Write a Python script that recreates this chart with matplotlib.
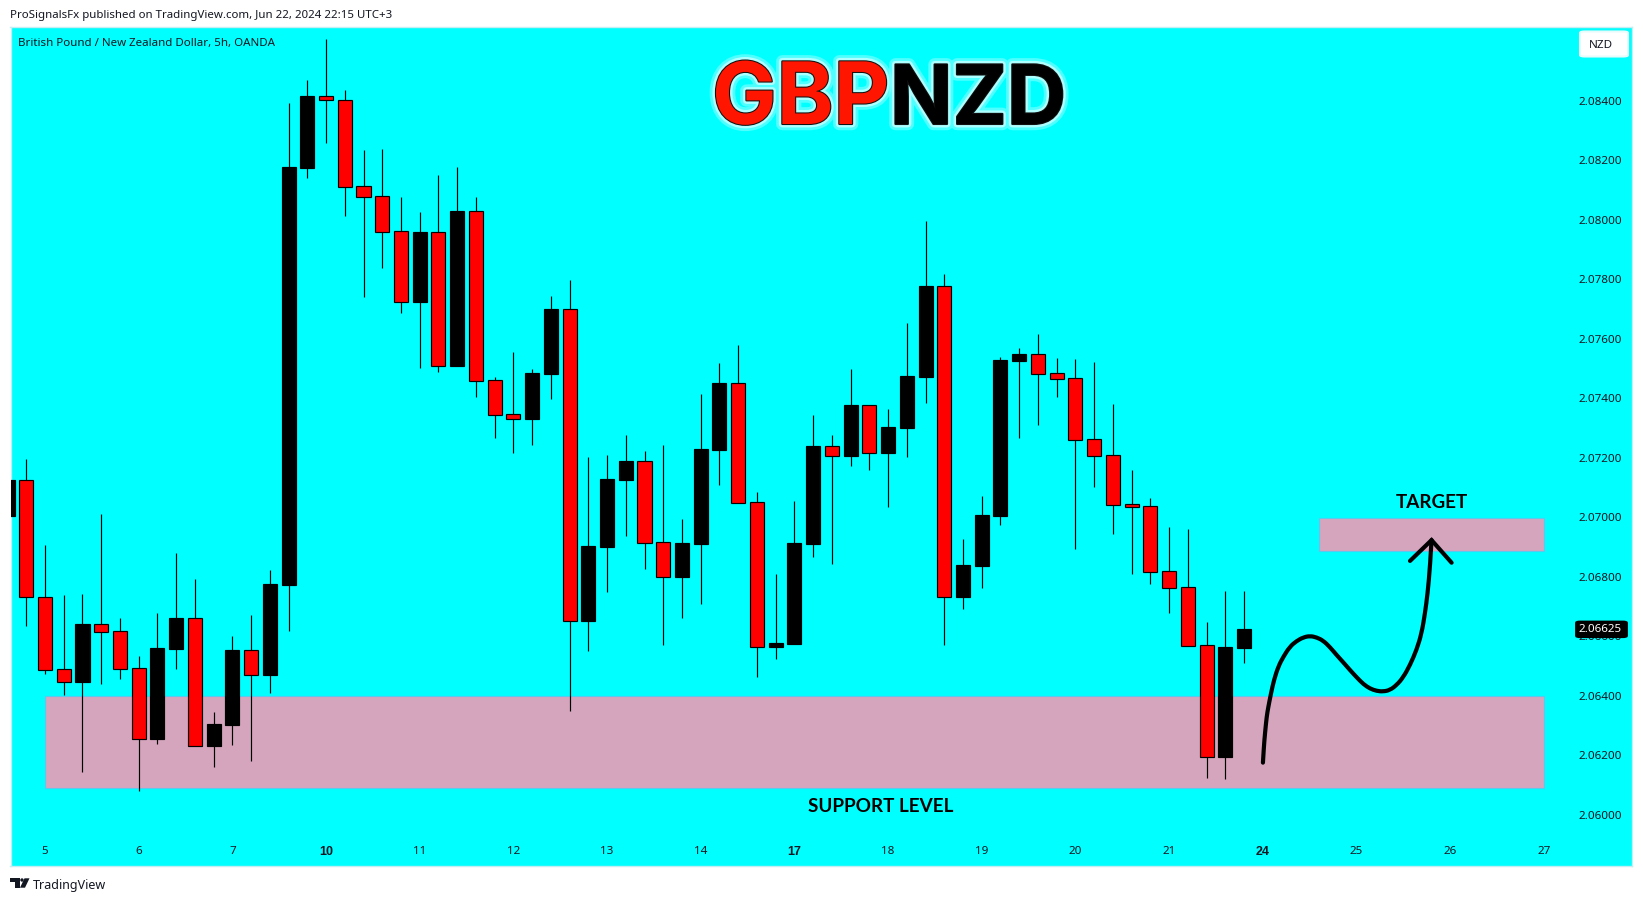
import matplotlib
matplotlib.use("Agg")
import matplotlib.pyplot as plt
import matplotlib.patheffects as pe
from matplotlib.patches import FancyBboxPatch, Polygon, Ellipse, Rectangle, PathPatch
from matplotlib.path import Path
from matplotlib.transforms import ScaledTranslation

W, H = 1643, 901
BG = "#00FFFF"
ZONE = "#D5A5BE"
ZONE_EDGE = "#5CC8EC"
FONT = "Noto Sans"
plt.rcParams["font.family"] = [FONT, "DejaVu Sans"]

# candle values, first bar is the one cut off by the left edge
bar_index = list(range(-1, 66))
opens = [2.07007, 2.07126, 2.06733, 2.06491, 2.06449, 2.06642, 2.06618, 2.06494, 2.06257, 2.06559,
         2.06662, 2.06234, 2.06304, 2.06555, 2.06472, 2.06775, 2.08177, 2.08417, 2.08403, 2.08114,
         2.08081, 2.07963, 2.07725, 2.07960, 2.07510, 2.08030, 2.07462, 2.07348, 2.07332, 2.07483,
         2.07701, 2.06653, 2.06902, 2.07127, 2.07190, 2.06918, 2.06801, 2.06912, 2.07228, 2.07452,
         2.07052, 2.06566, 2.06576, 2.06912, 2.07240, 2.07208, 2.07378, 2.07218, 2.07302, 2.07473,
         2.07778, 2.06734, 2.06838, 2.07006, 2.07527, 2.07550, 2.07486, 2.07469, 2.07264, 2.07210,
         2.07045, 2.07039, 2.06820, 2.06766, 2.06571, 2.06196, 2.06562]
closes = [2.07127, 2.06733, 2.06489, 2.06449, 2.06643, 2.06617, 2.06493, 2.06257, 2.06562, 2.06663,
          2.06234, 2.06307, 2.06556, 2.06473, 2.06777, 2.08179, 2.08418, 2.08403, 2.08113, 2.08079,
          2.07962, 2.07726, 2.07961, 2.07511, 2.08031, 2.07461, 2.07347, 2.07333, 2.07487, 2.07702,
          2.06654, 2.06905, 2.07130, 2.07191, 2.06916, 2.06802, 2.06915, 2.07231, 2.07453, 2.07051,
          2.06567, 2.06579, 2.06915, 2.07241, 2.07209, 2.07379, 2.07219, 2.07305, 2.07477, 2.07779,
          2.06735, 2.06841, 2.07009, 2.07530, 2.07551, 2.07484, 2.07468, 2.07262, 2.07209, 2.07044,
          2.07037, 2.06819, 2.06765, 2.06570, 2.06197, 2.06566, 2.06625]
highs = [2.07127, 2.07198, 2.06909, 2.06741, 2.06744, 2.07013, 2.06663, 2.06535, 2.06680, 2.06882,
         2.06794, 2.06347, 2.06603, 2.06673, 2.06825, 2.08394, 2.08472, 2.08609, 2.08438, 2.08236,
         2.08240, 2.08078, 2.08028, 2.08152, 2.08179, 2.08078, 2.07473, 2.07557, 2.07500, 2.07746,
         2.07799, 2.07204, 2.07211, 2.07278, 2.07225, 2.07245, 2.06996, 2.07416, 2.07520, 2.07581,
         2.07087, 2.06811, 2.07056, 2.07346, 2.07278, 2.07500, 2.07378, 2.07366, 2.07655, 2.07998,
         2.07819, 2.06929, 2.07073, 2.07540, 2.07571, 2.07618, 2.07537, 2.07534, 2.07524, 2.07382,
         2.07161, 2.07067, 2.06969, 2.06962, 2.06650, 2.06754, 2.06754]
lows = [2.07007, 2.06637, 2.06475, 2.06404, 2.06146, 2.06441, 2.06458, 2.06082, 2.06240, 2.06492,
        2.06234, 2.06162, 2.06236, 2.06183, 2.06411, 2.06619, 2.08142, 2.08260, 2.08014, 2.07742,
        2.07840, 2.07688, 2.07504, 2.07490, 2.07510, 2.07406, 2.07268, 2.07219, 2.07245, 2.07399,
        2.06352, 2.06552, 2.06751, 2.06939, 2.06828, 2.06572, 2.06663, 2.06710, 2.07110, 2.07051,
        2.06465, 2.06525, 2.06576, 2.06868, 2.06845, 2.07174, 2.07161, 2.07036, 2.07204, 2.07386,
        2.06572, 2.06693, 2.06764, 2.06976, 2.07268, 2.07312, 2.07406, 2.06895, 2.07104, 2.06946,
        2.06811, 2.06777, 2.06680, 2.06570, 2.06125, 2.06122, 2.06512]

# axes labels
price_ticks = [2.060, 2.062, 2.064, 2.066, 2.068, 2.070, 2.072, 2.074, 2.076, 2.078, 2.080, 2.082, 2.084]
date_ticks = [1, 6, 11, 16, 21, 26, 31, 36, 41, 46, 51, 56, 61, 66, 71, 76, 81]
date_labels = ["5", "6", "7", "10", "11", "12", "13", "14", "17", "18", "19", "20", "21", "24", "25", "26", "27"]
bold_dates = ["10", "17", "24"]
last_price = 2.06625

# drawn zones (bar index and price)
support_x = [1, 81]
support_y = [2.06091, 2.06400]
target_x = [69, 81]
target_y = [2.06887, 2.07000]

# hand-drawn arrow (bar index and price)
curve_x = [66.01, 66.06, 66.12, 66.21, 66.30, 66.44, 66.60, 66.83, 67.10, 67.45, 67.81, 68.16, 68.52, 68.88,
           69.23, 69.59, 69.94, 70.30, 70.66, 71.01, 71.37, 71.72, 72.08, 72.43, 72.79, 73.15, 73.50, 73.86,
           74.21, 74.48, 74.66, 74.80, 74.93, 75.01]
curve_y = [2.06177, 2.06231, 2.06275, 2.06332, 2.06365, 2.06410, 2.06455, 2.06500, 2.06533, 2.06567, 2.06586,
           2.06598, 2.06603, 2.06598, 2.06587, 2.06565, 2.06539, 2.06514, 2.06488, 2.06464, 2.06441, 2.06426,
           2.06418, 2.06416, 2.06421, 2.06438, 2.06464, 2.06505, 2.06556, 2.06612, 2.06679, 2.06746, 2.06836,
           2.06925]
head_x = [73.86, 75.01, 76.08]
head_y = [2.06855, 2.06925, 2.06849]


def fx(px):
    return px / W


def fy(py):
    return 1 - py / H


fig = plt.figure(figsize=(W / 100, H / 100), dpi=100, facecolor="white")
L, R, T, B = 10.5, 1632, 27, 866
ax = fig.add_axes([fx(L), fy(B), (R - L) / W, (B - T) / H], facecolor=BG)
ax.set_xlim(-0.843, 85.71)
ax.set_ylim(2.058296, 2.086497)
for s in ax.spines.values():
    s.set_color("#C4EEF2")
    s.set_linewidth(1)

# zones
ax.add_patch(Rectangle((support_x[0], support_y[0]), support_x[1] - support_x[0], support_y[1] - support_y[0],
                       facecolor=ZONE, edgecolor=ZONE_EDGE, linewidth=0.8, zorder=1))
ax.add_patch(Rectangle((target_x[0], target_y[0]), target_x[1] - target_x[0], target_y[1] - target_y[0],
                       facecolor=ZONE, edgecolor=ZONE_EDGE, linewidth=0.8, zorder=1))

# candles
colors = ["black" if c >= o else "#FF0000" for o, c in zip(opens, closes)]
ax.vlines(bar_index, lows, highs, color="black", linewidth=0.85, zorder=2)
ax.bar(bar_index, [abs(c - o) for o, c in zip(opens, closes)], bottom=[min(o, c) for o, c in zip(opens, closes)],
       width=0.75, color=colors, edgecolor="black", linewidth=0.85, zorder=3)

# arrow: the listed points steer a smooth curve
verts = [(curve_x[0], curve_y[0])]
codes = [Path.MOVETO]
for k in range(1, len(curve_x) - 1):
    verts.append((curve_x[k], curve_y[k]))
    codes.append(Path.CURVE3)
    if k < len(curve_x) - 2:
        verts.append(((curve_x[k] + curve_x[k + 1]) / 2, (curve_y[k] + curve_y[k + 1]) / 2))
    else:
        verts.append((curve_x[k + 1], curve_y[k + 1]))
    codes.append(Path.CURVE3)
ax.add_patch(PathPatch(Path(verts, codes), facecolor="none", edgecolor="black", linewidth=3.0,
                       capstyle="round", joinstyle="round", zorder=4))
ax.plot(head_x, head_y, color="black", linewidth=3.0, solid_capstyle="round", solid_joinstyle="miter", zorder=4)

# axes text
ax.yaxis.tick_right()
ax.set_yticks(price_ticks)
ax.set_yticklabels([f"{p:.5f}" for p in price_ticks], ha="right", va="center")
ax.tick_params(axis="y", length=0, pad=-7.2, labelsize=8.4, labelcolor="#131722", zorder=5)
ax.set_xticks(date_ticks)
ax.set_xticklabels(date_labels)
ax.tick_params(axis="x", length=0, pad=-14.5, labelsize=8.4, labelcolor="#131722")
for lab in ax.get_xticklabels():
    if lab.get_text() in bold_dates:
        lab.set_fontweight("bold")
        lab.set_family("Liberation Sans")
        lab.set_fontsize(9)
down_1px = ScaledTranslation(0, -1 / 100, fig.dpi_scale_trans)
for lab in ax.get_yticklabels():
    lab.set_transform(lab.get_transform() + down_1px)

# last price marker
ax.add_patch(FancyBboxPatch((fx(1576.5), fy(636.7)), 50 / W, 14.7 / H, boxstyle="round,pad=0.0,rounding_size=0.002",
                            transform=fig.transFigure, facecolor="black", edgecolor="black", linewidth=2,
                            mutation_aspect=H / W, clip_on=False, zorder=6))
fig.text(fx(1622), fy(630), f"{last_price:.5f}", color="white", fontsize=8.4, ha="right", va="center", zorder=7)

# zone labels
fig.text(fx(1431.7), fy(503), "TARGET", color="black", fontsize=13.6, fontweight="bold", family="Lato",
         ha="center", va="center")
fig.text(fx(881), fy(807), "SUPPORT LEVEL", color="black", fontsize=13.6, fontweight="bold", family="Lato",
         ha="center", va="center")

# big title
glow = [pe.withStroke(linewidth=9, foreground="#9FFFFF", alpha=0.5),
        pe.withStroke(linewidth=5, foreground="#D8FFFF", alpha=0.7),
        pe.withStroke(linewidth=1.5, foreground="#111111")]
fig.text(fx(712), fy(124), "GBP", color="#FF1500", fontsize=62, fontweight="bold", family="Inter",
         ha="left", va="baseline", path_effects=glow)
fig.text(fx(890), fy(124), "NZD", color="black", fontsize=59, fontweight="bold", family="Inter",
         ha="left", va="baseline", path_effects=glow)

# header / footer text
fig.text(fx(10), fy(15.7), "ProSignalsFx published on TradingView.com, Jun 22, 2024 22:15 UTC+3",
         color="#131722", fontsize=8.25, ha="left", va="center")
fig.text(fx(18.5), fy(43.5), "British Pound / New Zealand Dollar, 5h, OANDA", color="#131722", fontsize=8.3,
         ha="left", va="center")
fig.text(fx(33), fy(885.5), "TradingView", color="#131722", fontsize=9.0, ha="left", va="center")

# currency button
fig.add_artist(FancyBboxPatch((fx(1580), fy(56.5)), 48 / W, 25 / H, boxstyle="round,pad=0,rounding_size=0.003",
                              transform=fig.transFigure, facecolor="white", edgecolor="#E8FBFB", linewidth=1.5,
                              mutation_aspect=H / W))
fig.text(fx(1588.5), fy(45.3), "NZD", color="#131722", fontsize=8.4, ha="left", va="center")

# logo
fig.add_artist(Polygon([(fx(10), fy(878.3)), (fx(19.5), fy(878.3)), (fx(19.5), fy(887.7)), (fx(15), fy(887.7)),
                        (fx(15), fy(881.5)), (fx(10), fy(881.5))], closed=True, transform=fig.transFigure,
                       facecolor="#131722", edgecolor="none"))
fig.add_artist(Polygon([(fx(24.5), fy(878.3)), (fx(29.5), fy(878.3)), (fx(25), fy(887.7)), (fx(20), fy(887.7))],
                       closed=True, transform=fig.transFigure, facecolor="#131722", edgecolor="none"))
fig.add_artist(Ellipse((fx(22), fy(880)), 3.4 / W, 3.4 / H, transform=fig.transFigure, facecolor="#131722",
                       edgecolor="none"))

fig.savefig("out.png", dpi=100, facecolor="white")
